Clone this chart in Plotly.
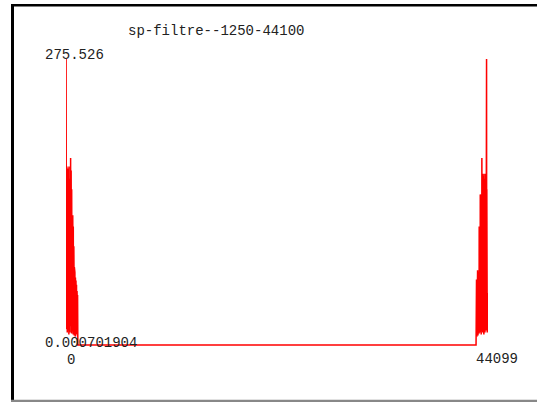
import plotly.graph_objects as go

title_text = "sp-filtre--1250-44100"
y_max_label = "275.526"
y_min_label = "0.000701904"
x_min_label = "0"
x_max_label = "44099"

left_x = [0, 8, 20, 34, 48, 62, 76, 90, 104, 118, 132, 146, 160, 174, 188, 202, 216, 230, 244, 258,
          272, 286, 300, 314, 328, 342, 356, 370, 384, 398, 412, 426, 440, 454, 468, 482, 496, 510, 524, 538,
          552, 566, 580, 594, 608, 622, 636, 650, 664, 678, 692, 706, 720, 734, 748, 762, 776, 790, 804, 818,
          832, 846, 860, 874, 888, 902, 916, 930, 944, 958, 972, 986, 1000, 1014, 1028, 1042, 1056, 1070, 1084, 1098,
          1112, 1126, 1140, 1154, 1168, 1182, 1196, 1210, 1224, 1238]
left_y = [18, 275.526, 40, 230, 15, 160, 22, 172, 30, 150, 12, 168, 25, 140, 18, 170, 35, 120, 14, 165,
          28, 145, 10, 172, 40, 130, 20, 160, 26, 110, 12, 150, 33, 165, 18, 180, 24, 120, 15, 168,
          30, 140, 11, 150, 27, 100, 16, 140, 35, 90, 13, 125, 25, 80, 10, 114, 30, 70, 14, 95,
          22, 60, 9, 75, 28, 50, 12, 70, 20, 45, 8, 65, 24, 40, 14, 62, 30, 38, 10, 58,
          22, 45, 12, 52, 18, 40, 8, 48, 15, 0.000701904]

mid_x = [1250, 42850]
mid_y = [0.000701904, 0.000701904]

right_x = [42862, 42870, 42884, 42898, 42912, 42926, 42940, 42954, 42968, 42982, 42996, 43010, 43024, 43038,
           43052, 43066, 43080, 43094, 43108, 43122, 43136, 43150, 43164, 43178, 43192, 43206, 43220, 43234,
           43248, 43262, 43276, 43290, 43304, 43318, 43332, 43346, 43360, 43374, 43388, 43402, 43416, 43430,
           43444, 43458, 43472, 43486, 43500, 43514, 43528, 43542, 43556, 43570, 43584, 43598, 43612, 43626,
           43640, 43654, 43668, 43682, 43696, 43710, 43724, 43738, 43752, 43766, 43780, 43794, 43808, 43822,
           43836, 43850, 43864, 43878, 43892, 43906, 43920, 43934, 43948, 43962, 43976, 43990, 44004, 44018,
           44032, 44046, 44060, 44074, 44088, 44099]
right_y = [0.000701904, 55, 10, 63, 18, 45, 8, 60, 25, 40, 12, 72, 20, 55,
           9, 70, 28, 48, 14, 68, 22, 60, 11, 114, 30, 80, 15, 110,
           25, 95, 12, 145, 35, 120, 18, 140, 28, 100, 10, 145, 32, 130,
           20, 180, 26, 150, 14, 165, 30, 140, 12, 163, 38, 120, 18, 160,
           24, 145, 10, 165, 34, 130, 16, 160, 28, 150, 12, 163, 36, 140,
           20, 165, 30, 120, 14, 170, 40, 230, 275.526, 30, 150, 18, 53, 12,
           48, 22, 50, 14, 45, 20]

x_all = left_x + mid_x + right_x
y_all = left_y + mid_y + right_y

W, H = 537, 402
L, R, T, B = 66, 49, 57, 55
PW, PH = W - L - R, H - T - B


def px(xp):
    return (xp - L) / PW


def py(yp):
    return (H - B - yp) / PH


fig = go.Figure()
fig.add_trace(go.Scatter(x=x_all, y=y_all, mode="lines",
                         line=dict(color="#ff0000", width=1.5),
                         hoverinfo="skip", showlegend=False))

font = dict(family="Liberation Mono, Courier New, monospace", size=14, color="#222222")
ann = []
for text, xp, yp in [(title_text, 126, 31), (y_max_label, 43, 55), (y_min_label, 43, 342.5),
                     (x_min_label, 65, 360), (x_max_label, 474, 359)]:
    ann.append(dict(text=text, x=px(xp), y=py(yp), xref="paper", yref="paper",
                    xanchor="left", yanchor="middle", showarrow=False, font=font))

shapes = [
    dict(type="rect", xref="paper", yref="paper", x0=px(11), x1=px(537), y0=py(6.6), y1=py(4.0),
         fillcolor="#000000", line=dict(width=0), layer="above"),
    dict(type="rect", xref="paper", yref="paper", x0=px(11), x1=px(14), y0=py(402), y1=py(4.0),
         fillcolor="#000000", line=dict(width=0), layer="above"),
    dict(type="rect", xref="paper", yref="paper", x0=px(11), x1=px(537), y0=py(402), y1=py(399.8),
         fillcolor="#888888", line=dict(width=0), layer="above"),
]

fig.update_layout(
    width=W, height=H,
    margin=dict(l=L, r=R, t=T, b=B, pad=0),
    paper_bgcolor="white", plot_bgcolor="white",
    annotations=ann, shapes=shapes,
    xaxis=dict(range=[0, 44099], visible=False, showgrid=False, zeroline=False),
    yaxis=dict(range=[-2.0, 277.4], visible=False, showgrid=False, zeroline=False),
)

fig.write_html("out.html",
               config={"displayModeBar": False, "staticPlot": True},
               post_script="document.body.style.margin='0';document.body.style.overflow='hidden';")
